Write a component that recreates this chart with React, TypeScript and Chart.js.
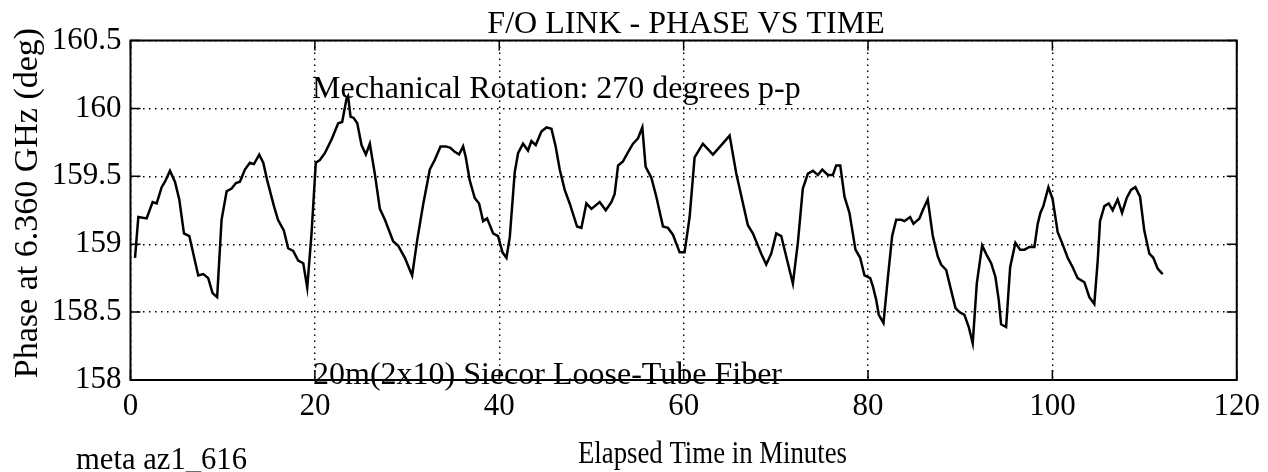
import React, { useEffect, useRef } from "react";
import { Chart, registerables } from "chart.js";

Chart.register(...registerables);

const times: number[] = [
  0.49, 0.85, 1.75, 2.4, 2.84, 3.38, 3.74, 4.28, 4.82, 5.29,
  5.8, 6.38, 7.35, 7.9, 8.43, 8.9, 9.4, 9.88, 10.43, 10.97,
  11.44, 11.87, 12.41, 12.95, 13.39, 13.96, 14.4, 14.83, 15.56, 16.0,
  16.64, 17.1, 17.65, 18.19, 18.74, 19.17, 19.64, 20.1, 20.54, 21.08,
  21.8, 22.53, 22.96, 23.43, 23.6, 23.87, 24.2, 24.6, 25.06, 25.53,
  25.96, 26.5, 27.05, 27.6, 28.5, 29.03, 29.76, 30.55, 31.1, 31.74,
  32.47, 33.0, 33.63, 34.2, 34.7, 35.17, 35.64, 36.08, 36.37, 36.8,
  37.34, 37.81, 38.25, 38.68, 39.33, 39.87, 40.35, 40.78, 41.14, 41.68,
  42.04, 42.58, 43.12, 43.49, 43.96, 44.57, 45.12, 45.66, 46.12, 46.56,
  47.1, 47.64, 48.44, 48.91, 49.45, 50.0, 50.9, 51.55, 52.16, 52.52,
  52.89, 53.42, 54.07, 54.51, 55.05, 55.52, 55.88, 56.5, 57.04, 57.76,
  58.3, 58.84, 59.57, 60.1, 60.65, 61.19, 62.09, 63.18, 64.09, 64.99,
  65.71, 66.97, 67.51, 68.42, 68.96, 69.5, 70.05, 70.59, 71.13, 71.85,
  72.39, 72.93, 73.48, 74.02, 74.56, 75.04, 75.64, 76.19, 76.55, 76.99,
  77.45, 77.99, 78.64, 79.15, 79.62, 80.24, 80.53, 80.89, 81.17, 81.68,
  82.15, 82.62, 83.06, 83.6, 83.96, 84.57, 84.93, 85.58, 85.94, 86.48,
  87.03, 87.57, 87.93, 88.48, 89.02, 89.49, 89.92, 90.46, 90.93, 91.36,
  91.8, 92.38, 92.88, 93.36, 93.82, 94.18, 94.44, 94.98, 95.42, 95.99,
  96.5, 96.97, 97.51, 98.05, 98.41, 98.7, 99.02, 99.57, 100.03, 100.57,
  101.05, 101.66, 102.2, 102.74, 103.47, 104.01, 104.55, 104.92, 105.17, 105.64,
  106.11, 106.54, 107.08, 107.56, 108.06, 108.53, 109.0, 109.51, 109.97, 110.52,
  110.95, 111.42, 111.96,
];

const phases: number[] = [
  158.9, 159.2, 159.19, 159.31, 159.3, 159.42, 159.46, 159.54, 159.46, 159.33,
  159.08, 159.06, 158.77, 158.78, 158.75, 158.64, 158.61, 159.18, 159.39, 159.41,
  159.45, 159.46, 159.55, 159.6, 159.59, 159.66, 159.6, 159.47, 159.28, 159.18,
  159.1, 158.97, 158.95, 158.88, 158.86, 158.68, 159.08, 159.6, 159.62, 159.67,
  159.77, 159.89, 159.9, 160.07, 160.09, 159.94, 159.93, 159.89, 159.73, 159.66,
  159.74, 159.52, 159.26, 159.18, 159.02, 158.99, 158.9, 158.77, 159.03, 159.29,
  159.55, 159.62, 159.72, 159.72, 159.71, 159.68, 159.66, 159.72, 159.64, 159.47,
  159.34, 159.3, 159.17, 159.19, 159.08, 159.06, 158.94, 158.9, 159.05, 159.53,
  159.67, 159.74, 159.69, 159.76, 159.73, 159.83, 159.86, 159.85, 159.72, 159.55,
  159.4, 159.3, 159.13, 159.12, 159.3, 159.26, 159.31, 159.25, 159.31, 159.37,
  159.58, 159.61, 159.69, 159.74, 159.78, 159.86, 159.57, 159.49, 159.35, 159.13,
  159.12, 159.07, 158.94, 158.94, 159.2, 159.64, 159.74, 159.66, 159.73, 159.8,
  159.52, 159.14, 159.08, 158.93, 158.85, 158.93, 159.08, 159.06, 158.91, 158.71,
  159.01, 159.41, 159.52, 159.54, 159.51, 159.55, 159.51, 159.51, 159.58, 159.58,
  159.35, 159.23, 158.96, 158.9, 158.77, 158.75, 158.69, 158.59, 158.48, 158.42,
  158.75, 159.06, 159.18, 159.18, 159.17, 159.2, 159.15, 159.19, 159.25, 159.33,
  159.06, 158.91, 158.85, 158.81, 158.66, 158.53, 158.5, 158.48, 158.39, 158.27,
  158.71, 158.99, 158.92, 158.86, 158.76, 158.59, 158.41, 158.39, 158.83, 159.01,
  158.96, 158.96, 158.98, 158.98, 159.15, 159.23, 159.28, 159.42, 159.33, 159.09,
  159.01, 158.9, 158.83, 158.75, 158.72, 158.61, 158.56, 158.88, 159.17, 159.28,
  159.3, 159.25, 159.33, 159.23, 159.34, 159.4, 159.42, 159.35, 159.1, 158.93,
  158.9, 158.82, 158.78,
];

const xTicks: number[] = [0, 20, 40, 60, 80, 100, 120];
const yTicks: number[] = [158, 158.5, 159, 159.5, 160, 160.5];

const titleText = "F/O LINK - PHASE VS TIME";
const xTitle = "Elapsed Time in Minutes";
const yTitle = "Phase at 6.360 GHz (deg)";
const note1 = "Mechanical Rotation: 270 degrees p-p";
const note2 = "20m(2x10) Siecor Loose-Tube Fiber";
const footer = "meta az1_616";

const SERIF = "'Liberation Serif', 'DejaVu Serif', serif";

function fitText(
  ctx: CanvasRenderingContext2D,
  text: string,
  left: number,
  baseline: number,
  targetWidth: number
) {
  const w = ctx.measureText(text).width;
  const sx = targetWidth / w;
  ctx.save();
  ctx.translate(left, baseline);
  ctx.scale(sx, 1);
  ctx.textAlign = "left";
  ctx.fillText(text, 0, 0);
  ctx.restore();
}

const decorPlugin = {
  id: "decor",
  afterDraw(chart: any) {
    const ctx = chart.ctx as CanvasRenderingContext2D;
    const { left, right, top, bottom } = chart.chartArea;
    const xs = chart.scales.x;
    const ys = chart.scales.y;
    ctx.save();
    // box
    ctx.strokeStyle = "#000";
    ctx.lineWidth = 2;
    ctx.setLineDash([]);
    ctx.strokeRect(left, top, right - left, bottom - top);
    // inward ticks
    ctx.lineWidth = 1.5;
    const tl = 10;
    ctx.beginPath();
    for (const v of yTicks) {
      const py = ys.getPixelForValue(v);
      ctx.moveTo(left, py);
      ctx.lineTo(left + tl, py);
      ctx.moveTo(right, py);
      ctx.lineTo(right - tl, py);
    }
    for (const v of xTicks) {
      const px = xs.getPixelForValue(v);
      ctx.moveTo(px, bottom);
      ctx.lineTo(px, bottom - tl);
      ctx.moveTo(px, top);
      ctx.lineTo(px, top + tl);
    }
    ctx.stroke();
    // texts
    ctx.fillStyle = "#000";
    ctx.textBaseline = "alphabetic";
    ctx.font = `32px ${SERIF}`;
    ctx.textAlign = "center";
    ctx.fillText(titleText, 686, 33);
    ctx.textAlign = "left";
    ctx.fillText(note1, 312, 98);
    ctx.fillText(note2, 313, 384);
    ctx.font = `32px ${SERIF}`;
    fitText(ctx, xTitle, 578, 463, 269);
    ctx.font = `32px ${SERIF}`;
    fitText(ctx, footer, 76, 469, 171);
    ctx.save();
    ctx.translate(37, 203);
    ctx.rotate(-Math.PI / 2);
    ctx.textAlign = "center";
    ctx.font = `34px ${SERIF}`;
    ctx.fillText(yTitle, 0, 0);
    ctx.restore();
    ctx.restore();
  },
};

export default function App() {
  const ref = useRef<HTMLCanvasElement | null>(null);
  useEffect(() => {
    document.body.style.margin = "0";
    const canvas = ref.current;
    if (!canvas) return;
    const data = times.map((t, i) => ({ x: t, y: phases[i] }));
    const chart = new Chart(canvas, {
      type: "line",
      data: {
        datasets: [
          {
            data,
            borderColor: "#000",
            borderWidth: 2.5,
            pointRadius: 0,
            tension: 0,
            fill: false,
          },
        ],
      },
      options: {
        responsive: false,
        animation: false,
        events: [],
        layout: { padding: { left: 0, top: 40.5, right: 30.5, bottom: 0 } },
        plugins: {
          legend: { display: false },
          title: { display: false },
          tooltip: { enabled: false },
        },
        scales: {
          x: {
            type: "linear",
            min: 0,
            max: 120,
            afterFit: (s: any) => {
              s.height = 92;
            },
            afterBuildTicks: (s: any) => {
              s.ticks = xTicks.map((v) => ({ value: v }));
            },
            ticks: {
              color: "#000",
              font: { family: SERIF, size: 31 },
              padding: 8,
              maxRotation: 0,
              autoSkip: false,
              callback: (v: any) => String(v),
            },
            grid: {
              color: "#000",
              lineWidth: 1.4,
              drawTicks: false,
            },
            border: { display: false, dash: [1.5, 4.5] },
          },
          y: {
            type: "linear",
            min: 158,
            max: 160.5,
            afterFit: (s: any) => {
              s.width = 130.5;
            },
            afterBuildTicks: (s: any) => {
              s.ticks = yTicks.map((v) => ({ value: v }));
            },
            ticks: {
              color: "#000",
              font: { family: SERIF, size: 31 },
              padding: 9,
              autoSkip: false,
              callback: (v: any) => String(v),
            },
            grid: {
              color: "#000",
              lineWidth: 1.4,
              drawTicks: false,
            },
            border: { display: false, dash: [1.5, 4.5] },
          },
        },
      },
      plugins: [decorPlugin],
    });
    return () => chart.destroy();
  }, []);
  return (
    <canvas
      ref={ref}
      width={1268}
      height={472}
      style={{ display: "block", width: 1268, height: 472 }}
    />
  );
}
